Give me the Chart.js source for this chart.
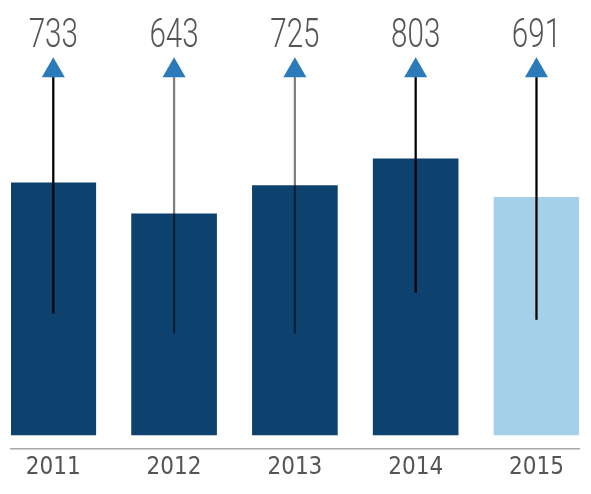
<!DOCTYPE html>
<html><head><meta charset="utf-8">
<script src="https://cdn.jsdelivr.net/npm/chart.js@4.4.1/dist/chart.umd.min.js"></script>
<style>html,body{margin:0;padding:0;background:#fff}#wrap{width:591px;height:494px;position:relative}</style>
</head><body><div id="wrap"><canvas id="c"></canvas></div>
<script>
const years = [2011, 2012, 2013, 2014, 2015];
const yearLabels = ['2011', '2012', '2013', '2014', '2015'];
const values = [733, 643, 725, 803, 691];
const stemLows = [354, 296, 296, 415, 336];
const arrowLevels = [1060, 1060, 1060, 1060, 1060];
const barColors = ['#0d426f', '#0d426f', '#0d426f', '#0d426f', '#a4d0ea'];
const stemColors = ['#000000', 'rgba(0,0,0,0.5)', 'rgba(0,0,0,0.5)', '#000000', '#000000'];

const labelPlugin = {
  id: 'valueLabels',
  afterDatasetsDraw(chart) {
    const meta = chart.getDatasetMeta(2);
    const ctx = chart.ctx;
    ctx.save();
    ctx.fillStyle = '#555555';
    ctx.font = '300 40px Roboto';
    ctx.textAlign = 'center';
    ctx.textBaseline = 'alphabetic';
    meta.data.forEach((pt, i) => {
      ctx.save();
      ctx.translate(pt.x, pt.y - 23);
      ctx.scale(0.74, 1);
      ctx.fillText(String(values[i]), 0, 0);
      ctx.restore();
    });
    ctx.restore();
  }
};

new Chart(document.getElementById('c'), {
  type: 'bar',
  data: {
    datasets: [
      {
        data: years.map((y, i) => ({ x: y, y: values[i] })),
        backgroundColor: barColors,
        barThickness: 85,
        grouped: false,
        order: 3
      },
      {
        data: years.map((y, i) => ({ x: y, y: [stemLows[i], arrowLevels[i]] })),
        backgroundColor: stemColors,
        barThickness: 1.6,
        grouped: false,
        order: 2
      },
      {
        type: 'scatter',
        data: years.map((y, i) => ({ x: y, y: arrowLevels[i] })),
        pointStyle: 'triangle',
        pointRadius: 13.3,
        pointBackgroundColor: '#2b7bba',
        pointBorderWidth: 0,
        clip: false,
        order: 1
      }
    ]
  },
  options: {
    responsive: true,
    maintainAspectRatio: false,
    animation: false,
    layout: { autoPadding: false, padding: { left: 11, right: 12, top: 0, bottom: 0 } },
    plugins: { legend: { display: false }, tooltip: { enabled: false } },
    scales: {
      x: {
        type: 'linear',
        min: 2010.65,
        max: 2015.352,
        offset: false,
        afterBuildTicks: (scale) => { scale.ticks = years.map(v => ({ value: v })); },
        afterFit: (scale) => { scale.height = 45; },
        grid: { display: false, drawTicks: false },
        border: { display: true, color: '#a8a8a8', width: 1.5 },
        ticks: {
          padding: 4,
          color: '#555555',
          font: { family: "'Liberation Sans Narrow', 'DejaVu Sans Condensed', sans-serif", size: 24 },
          autoSkip: false,
          maxRotation: 0,
          callback: (v, i) => yearLabels[i]
        }
      },
      y: {
        display: false,
        min: -40.7,
        max: 1265
      }
    }
  },
  plugins: [labelPlugin]
});
</script>
</body></html>
